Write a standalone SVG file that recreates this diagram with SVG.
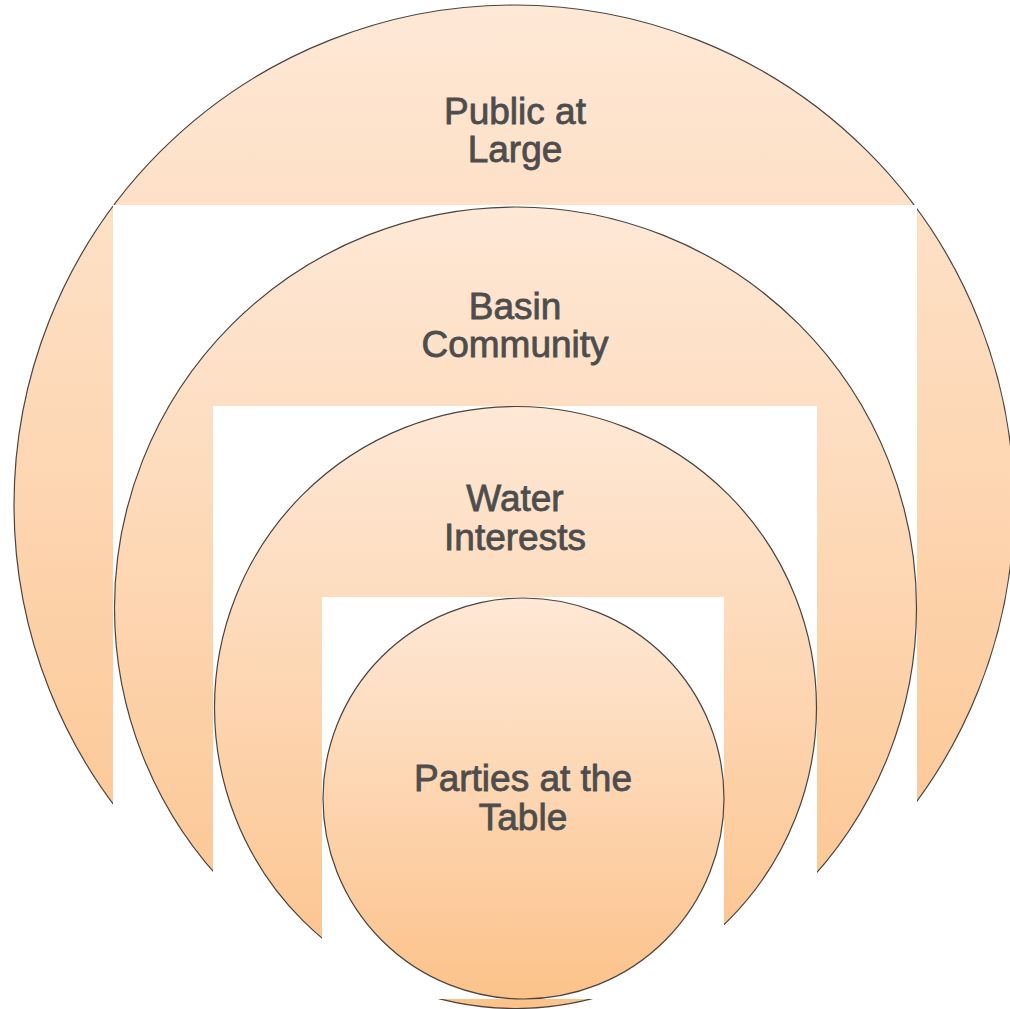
<svg xmlns="http://www.w3.org/2000/svg" width="1010" height="1009" viewBox="0 0 1010 1009">
<defs>
<linearGradient id="g" x1="0" y1="0" x2="0" y2="1">
<stop offset="0" stop-color="#FEE8D6"/>
<stop offset="1" stop-color="#FCC28A"/>
</linearGradient>
<style>
.c{fill:url(#g);stroke:#4a4440;stroke-width:1.2}
.w{fill:#ffffff}
.t{font-family:"Liberation Sans",Arial,sans-serif;font-size:37px;fill:#4D4D4D;stroke:#4D4D4D;stroke-width:0.8;text-anchor:middle}
</style>
</defs>
<rect width="1010" height="1009" fill="#ffffff"/>
<g id="public">
<circle class="c" cx="514" cy="505" r="500"/>
<rect class="w" x="113" y="205" width="804" height="804"/>
<text class="t" x="515" y="124">Public at</text>
<text class="t" x="515" y="162">Large</text>
</g>
<g id="basin">
<circle class="c" cx="515.5" cy="608" r="401"/>
<rect class="w" x="213" y="406" width="604" height="603"/>
<text class="t" x="515" y="319">Basin</text>
<text class="t" x="515" y="357">Community</text>
</g>
<g id="water">
<circle class="c" cx="515.5" cy="707.5" r="301"/>
<rect class="w" x="322" y="597" width="402" height="402"/>
<text class="t" x="515" y="511">Water</text>
<text class="t" x="515" y="550">Interests</text>
</g>
<g id="parties">
<circle class="c" cx="523.5" cy="798.5" r="200.5"/>
<text class="t" x="523" y="791">Parties at the</text>
<text class="t" x="523" y="830">Table</text>
</g>
<g id="connectors"/>
</svg>
